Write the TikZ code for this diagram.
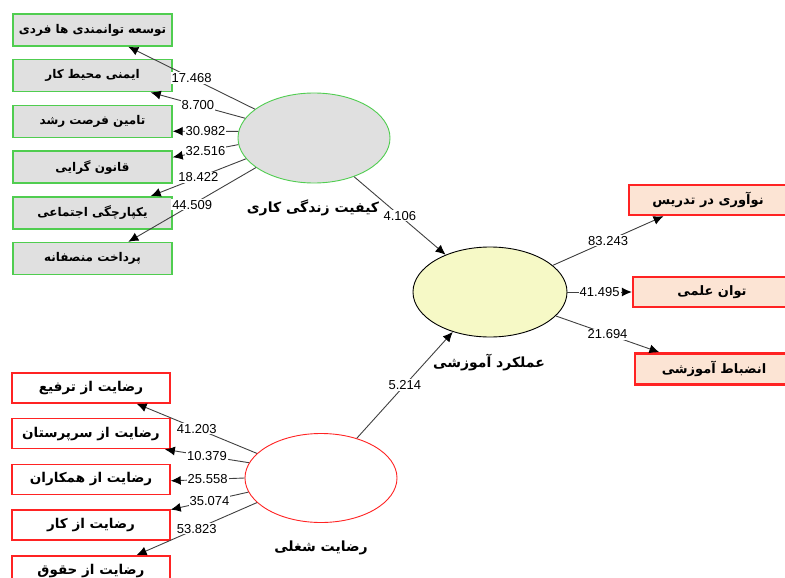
\documentclass[tikz,border=0pt]{standalone}
\usepackage{fontspec}
\setmainfont{Liberation Sans}
\newfontfamily\farsi[Script=Arabic]{DejaVu Sans}
\TeXXeTstate=1
\newcommand{\pers}[1]{{\farsi\bfseries\beginR #1\endR}}
\usepackage{tikz}
\usetikzlibrary{shapes.geometric, positioning, arrows.meta}
\definecolor{qgreen}{RGB}{80,205,80}
\definecolor{qgray}{RGB}{224,224,224}
\definecolor{sred}{RGB}{255,35,35}
\definecolor{ppeach}{RGB}{252,228,212}
\definecolor{pyellow}{RGB}{246,249,198}
\tikzset{qwl item/.style={draw=qgreen, fill=qgray, line width=1.4pt, rectangle, minimum width=159pt, minimum height=32pt, inner sep=0pt, font=\fontsize{12}{14}\selectfont}}
\tikzset{js item/.style={draw=sred, fill=white, line width=1.4pt, rectangle, minimum width=158pt, minimum height=30pt, inner sep=0pt, font=\fontsize{13.5}{15}\selectfont}}
\tikzset{ep item/.style={draw=sred, fill=ppeach, line width=2.4pt, rectangle, minimum width=158pt, minimum height=30pt, inner sep=0pt, font=\fontsize{13}{15}\selectfont}}
\tikzset{latent/.style={ellipse, minimum width=152pt, minimum height=90pt, inner sep=0pt, line width=0.9pt}}
\tikzset{lv name/.style={inner sep=0pt, font=\fontsize{14}{16}\selectfont}}
\tikzset{link/.style={draw=black!75, line width=0.9pt, -{Latex[length=10pt,width=9pt,black]}}}
\tikzset{num/.style={fill=white, inner sep=1pt, font=\fontsize{13}{14}\selectfont}}

\begin{document}
\begin{tikzpicture}[x=1pt, y=-1pt]
\useasboundingbox (0,0) rectangle (785,578);
% latent variables
\node[latent, draw=qgreen, fill=qgray] (qwl) at (314,138) {};
\node[latent, draw=black, fill=pyellow, minimum width=154pt] (ep) at (490,292) {};
\node[latent, draw=sred, fill=white, minimum height=89pt] (js) at (321,478) {};
\node[lv name] (qwlt) at (313,208) {\pers{کیفیت زندگی کاری}};
\node[lv name] (ept) at (489,363) {\pers{عملکرد آموزشی}};
\node[lv name] (jst) at (321,548) {\pers{رضایت شغلی}};
% indicators
\node[qwl item] (q1) at (92.5,30) {\pers{توسعه توانمندی ها فردی}};
\node[qwl item, below=12.3pt of q1] (q2) {\pers{ایمنی محیط کار}};
\node[qwl item, below=12.3pt of q2] (q3) {\pers{تامین فرصت رشد}};
\node[qwl item, below=12.3pt of q3] (q4) {\pers{قانون گرایی}};
\node[qwl item, below=12.3pt of q4] (q5) {\pers{یکپارچگی اجتماعی}};
\node[qwl item, below=12.3pt of q5] (q6) {\pers{پرداخت منصفانه}};
\node[js item] (s1) at (91,388) {\pers{رضایت از ترفیع}};
\node[js item, below=14.3pt of s1] (s2) {\pers{رضایت از سرپرستان}};
\node[js item, below=14.3pt of s2] (s3) {\pers{رضایت از همکاران}};
\node[js item, below=14.3pt of s3] (s4) {\pers{رضایت از کار}};
\node[js item, below=14.3pt of s4] (s5) {\pers{رضایت از حقوق}};
\node[ep item] (p1) at (708,200) {\pers{نوآوری در تدریس}};
\node[ep item] (p2) at (712,292) {\pers{توان علمی}};
\node[ep item, minimum height=31pt] (p3) at (714,369) {\pers{انضباط آموزشی}};
% loadings
\draw[link] (qwl.154) to node[num] {17.468} (q1.335);
\draw[link] (qwl.164) to node[num] {8.700} (q2.344);
\draw[link] (qwl.175) to node[num] {30.982} (q3.353);
\draw[link] (qwl.185) to node[num] {32.516} (q4.7);
\draw[link] (qwl.197) to node[num] {18.422} (q5.16);
\draw[link] (qwl.207) to node[num] {44.509} (q6.25);
\draw[link] (js.159) to node[num] {41.203} (s1.341);
\draw[link] (js.168) to node[num] {10.379} (s2.348);
\draw[link] (js.180) to node[num] {25.558} (s3.359);
\draw[link] (js.191) to node[num] {35.074} (s4.11);
\draw[link] (js.201) to node[num] {53.823} (s5.19);
\draw[link] (ep.23) to node[num] {83.243} (p1.200);
\draw[link] (ep) to node[num] {41.495} (p2);
\draw[link] (ep.340) to node[num] {21.694} (p3.163);
% paths
\draw[link] (qwl.316) to node[num] {4.106} (ep.140);
\draw[link] (js.48) to node[num] {5.214} (ep.227);
\end{tikzpicture}
\end{document}
